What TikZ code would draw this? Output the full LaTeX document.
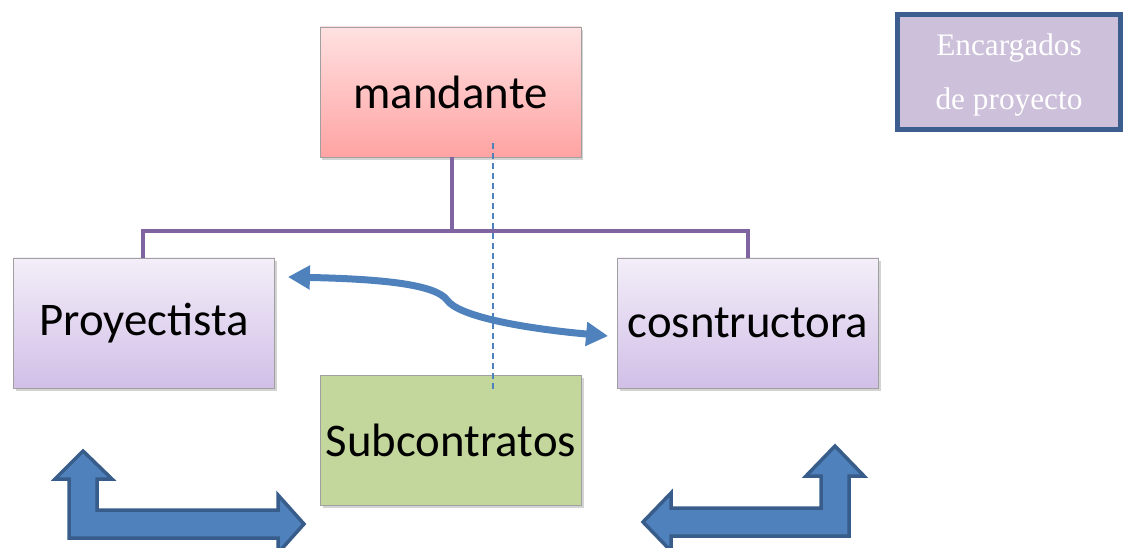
\documentclass[tikz,border=0pt]{standalone}
\usepackage{fontspec}
\setmainfont{Carlito}
\newfontfamily\serifenc{Liberation Serif}
\usetikzlibrary{arrows.meta,shadows,calc}
\definecolor{pinkT}{HTML}{FFE1E1}
\definecolor{pinkB}{HTML}{FFA3A3}
\definecolor{lilT}{HTML}{F3EEF9}
\definecolor{lilB}{HTML}{D1BFE7}
\definecolor{greenF}{HTML}{C3D69B}
\definecolor{encF}{HTML}{CCC0DA}
\definecolor{encB}{HTML}{3B5E8E}
\definecolor{orgline}{HTML}{8064A2}
\definecolor{blueA}{HTML}{4F81BD}
\definecolor{blueB}{HTML}{385D8A}
\definecolor{boxedge}{HTML}{A0A0A0}
\tikzset{
  box/.style={draw=boxedge, line width=0.8pt, minimum width=261pt, minimum height=130pt,
    inner sep=0pt, font=\fontsize{46.8}{56}\selectfont,
    drop shadow={opacity=0.35, shadow xshift=2pt, shadow yshift=-3pt}},
  pinkbox/.style={box, top color=pinkT, bottom color=pinkB},
  lilbox/.style={box, top color=lilT, bottom color=lilB},
  greenbox/.style={box, fill=greenF},
  encbox/.style={draw=encB, fill=encF, line width=5pt, minimum width=223pt, minimum height=115pt,
    inner sep=0pt, text=white, font=\serifenc\fontsize{31.3}{54}\selectfont},
  orgconn/.style={draw=orgline, line width=4.5pt},
  dashconn/.style={draw=blueA, line width=1.3pt, dash pattern=on 6pt off 4pt},
  curvearrow/.style={draw=blueA, line width=7pt, {Triangle[length=22pt,width=23pt]}-{Triangle[length=22pt,width=23pt]}},
  bentarrow/.style={fill=blueA, draw=blueB, line width=3.5pt, line join=miter},
}
\begin{document}
\begin{tikzpicture}[x=1pt,y=-1pt]
\useasboundingbox (0,0) rectangle (1125,548);
% bent arrows (behind)
\path[bentarrow] (83,451) -- (112,479) -- (97,479) -- (97,510) -- (278,510) -- (278,495)
  -- (304,524) -- (278,553) -- (278,538) -- (69,538) -- (69,479) -- (55,479) -- cycle;
\path[bentarrow] (835,446) -- (864,476) -- (849,476) -- (849,536) -- (671,536) -- (671,551)
  -- (643,522) -- (671,493) -- (671,508) -- (821,508) -- (821,476) -- (806,476) -- cycle;
% nodes
\node[pinkbox] (mand) at (450.5,92) {mandante};
\node[lilbox] (proy) at (144,323) {Proyectista};
\node[lilbox] (cons) at (748,323) {cosntructora};
\node[greenbox] (sub) at (451,440) {Subcontratos};
\node[encbox] (enc) at (1009,72)
  {\raisebox{-4pt}{\begin{tabular}{@{}c@{}}Encargados\\de proyecto\end{tabular}}};
% org connectors
\coordinate (j) at (452,231);
\draw[orgconn] (mand.south -| j) -- (j);
\draw[orgconn] (proy.north -| 143,0) |- (j) -| (cons.north);
% dashed line
\coordinate (d1) at (493,143);
\coordinate (d2) at (493,390);
\draw[dashconn] (d1) -- (d2);
% curved double arrow
\draw[curvearrow] ($(proy.east)+(13,-46)$) .. controls (380,279) and (435,284) .. (447,300)
  .. controls (458,316) and (520,328) .. ($(cons.west)+(-9,13)$);
\end{tikzpicture}
\end{document}
